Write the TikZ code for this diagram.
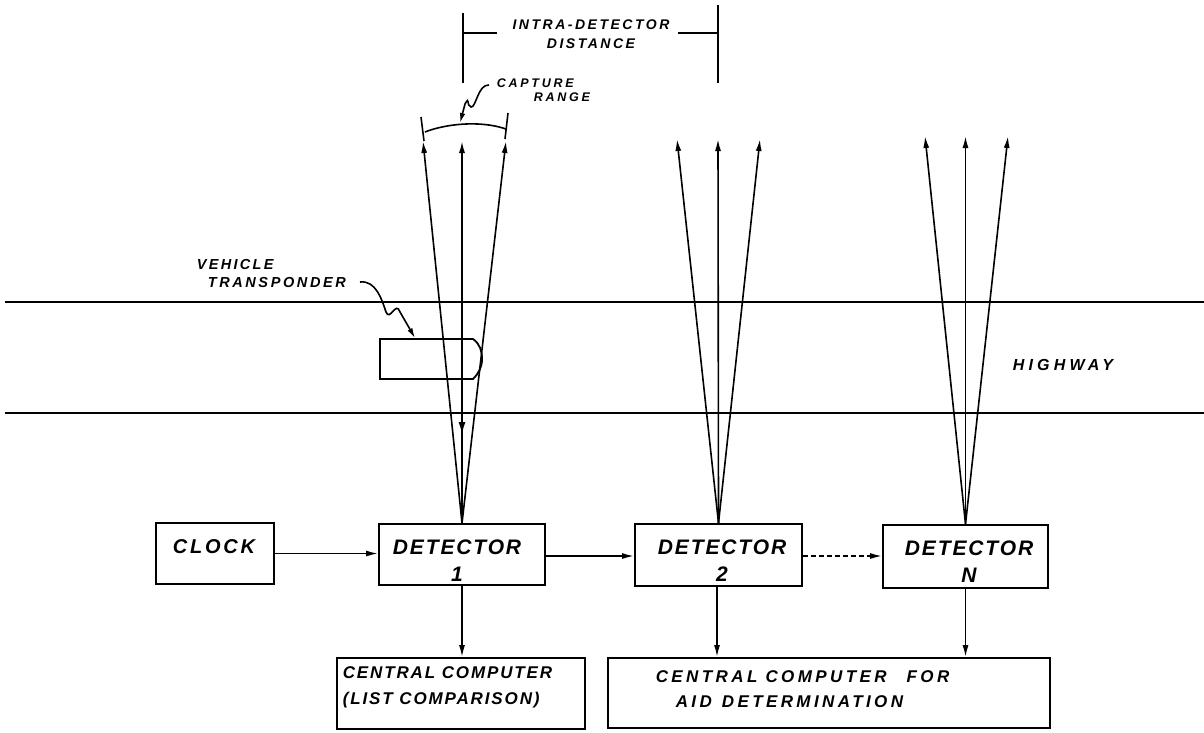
\documentclass[tikz,border=0pt]{standalone}
\usepackage{fontspec}
\newfontfamily\hand{Liberation Sans}
\usetikzlibrary{arrows.meta}
\newcommand\hf[3]{\hand\bfseries\itshape\fontsize{#1}{#2}\selectfont\addfontfeatures{LetterSpace=#3}}
\begin{document}
\begin{tikzpicture}[x=1pt,y=-1pt,line width=1.6pt,
  box/.style={draw,line width=1.8pt,rectangle,inner sep=0pt},
  arr/.style={-{Latex[length=12pt,width=6pt]}},
  small/.style={-{Latex[length=10pt,width=5.5pt]}},
  lab/.style={inner sep=0pt,align=center}]
\useasboundingbox (0,0) rectangle (1204,732);
% highway
\coordinate (hl1) at (5,302); \coordinate (hr1) at (1204,302);
\coordinate (hl2) at (5,413); \coordinate (hr2) at (1204,413);
\draw (hl1) -- (hr1);
\draw (hl2) -- (hr2);
\node[lab,font={\hf{16}{18}{26}}] (hw) at (1063,365) {HIGHWAY};
% boxes
\node[box,minimum width=118pt,minimum height=61pt] (clock) at (215,553.5) {};
\node[box,minimum width=166pt,minimum height=61pt] (d1) at (462,554.5) {};
\node[box,minimum width=167pt,minimum height=62pt] (d2) at (718.5,555) {};
\node[box,minimum width=165pt,minimum height=63pt] (dN) at (965.5,556.5) {};
\node[box,minimum width=248pt,minimum height=71pt] (cc1) at (461,693.5) {};
\node[box,minimum width=442pt,minimum height=70pt] (cc2) at (829,693) {};
% box texts
\node[lab,font={\hf{20}{24}{14}}] (tclock) at (214,547) {CLOCK};
\node[lab,font={\hf{21}{27}{9}}] (td1) at (457,561) {DETECTOR\\1};
\node[lab,font={\hf{21}{27}{9}}] (td2) at (722,561) {DETECTOR\\2};
\node[lab,font={\hf{21}{27}{9}}] (tdN) at (969,562) {DETECTOR\\N};
\node[lab,anchor=west,font={\hf{17}{26}{11}},align=left] (tcc1) at (342,687) {CENTRAL COMPUTER\\(LIST COMPARISON)};
\node[lab,anchor=west,font={\hf{17}{25}{20}},align=left] (tcc2) at (655,689.5) {CENTRAL COMPUTER\hspace{20pt}FOR\\\hspace{20pt}AID\hspace{10pt}DETERMINATION};
% connectors
\draw[arr] (clock.east) -- (clock.east -| d1.west);
\draw[arr] ([yshift=-1.5pt]d1.east) -- ([yshift=-1.5pt]d1.east -| d2.west);
\draw[arr,dash pattern=on 5pt off 3pt] ([yshift=-1pt]d2.east) -- ([yshift=-1pt]d2.east -| dN.west);
\draw[arr] (d1.south) -- (d1.south |- cc1.north);
\draw[arr] ([xshift=-1.5pt]d2.south) -- ([xshift=-1.5pt]d2.south |- cc2.north);
\draw[arr] (dN.south) -- (dN.south |- cc2.north);
% beams
\coordinate (b1l) at (423,141); \coordinate (b1c) at (462,141); \coordinate (b1r) at (506,141);
\coordinate (b2l) at (677,139); \coordinate (b2c) at (718,139); \coordinate (b2r) at (760,139);
\coordinate (bNl) at (925,136); \coordinate (bNc) at (965.5,136); \coordinate (bNr) at (1008,136);
\foreach \t in {b1l,b1c,b1r} \draw[arr] (d1.north) -- (\t);
\foreach \t in {b2l,b2c,b2r} \draw[arr] (d2.north) -- (\t);
\foreach \t in {bNl,bNc,bNr} \draw[arr] (dN.north) -- (\t);
% vehicle transponder
\draw[line width=1.8pt] (380,339) -- (473,339) .. controls (480,344) and (482,351) .. (482,359)
  .. controls (482,367) and (479,373) .. (473,379) -- (380,379) -- cycle;
\coordinate (refl) at (462,379); \coordinate (reflend) at (462,436);
\draw[-{Latex[length=14pt,width=7pt]},line width=2.6pt] (refl) -- (reflend);
\node[lab,anchor=west,font={\hf{14.5}{17}{16}}] (tveh) at (196,264) {VEHICLE};
\node[lab,anchor=west,font={\hf{14.5}{17}{18}}] (ttr) at (207,282) {TRANSPONDER};
\draw[small] (360,282) .. controls (376,280) and (382,300) .. (386,312)
  .. controls (390,322) and (396,300) .. (400,312) -- (415,338);
% capture range
\draw (421,117) -- (424,141);
\draw (508,113) -- (505,139);
\draw (425,132) .. controls (445,124) and (480,120) .. (506,129);
\node[lab,anchor=west,font={\hf{12.5}{15}{22}}] (tcap) at (496,83) {CAPTURE};
\node[lab,anchor=west,font={\hf{12.5}{15}{22}}] (tran) at (533,97) {RANGE};
\draw[small] (489,85) .. controls (478,84) and (476,108) .. (471,107)
  .. controls (466,106) and (470,95) .. (465,104) -- (460,123);
% intra-detector distance
\draw (463,13) -- (463,83);
\draw (718,5) -- (718,83);
\draw (463,33) -- (497,33);
\draw (678,33) -- (718,33);
\node[lab,font={\hf{14}{19}{18}}] (tintra) at (591,34) {INTRA-DETECTOR\\DISTANCE};
\end{tikzpicture}
\end{document}
